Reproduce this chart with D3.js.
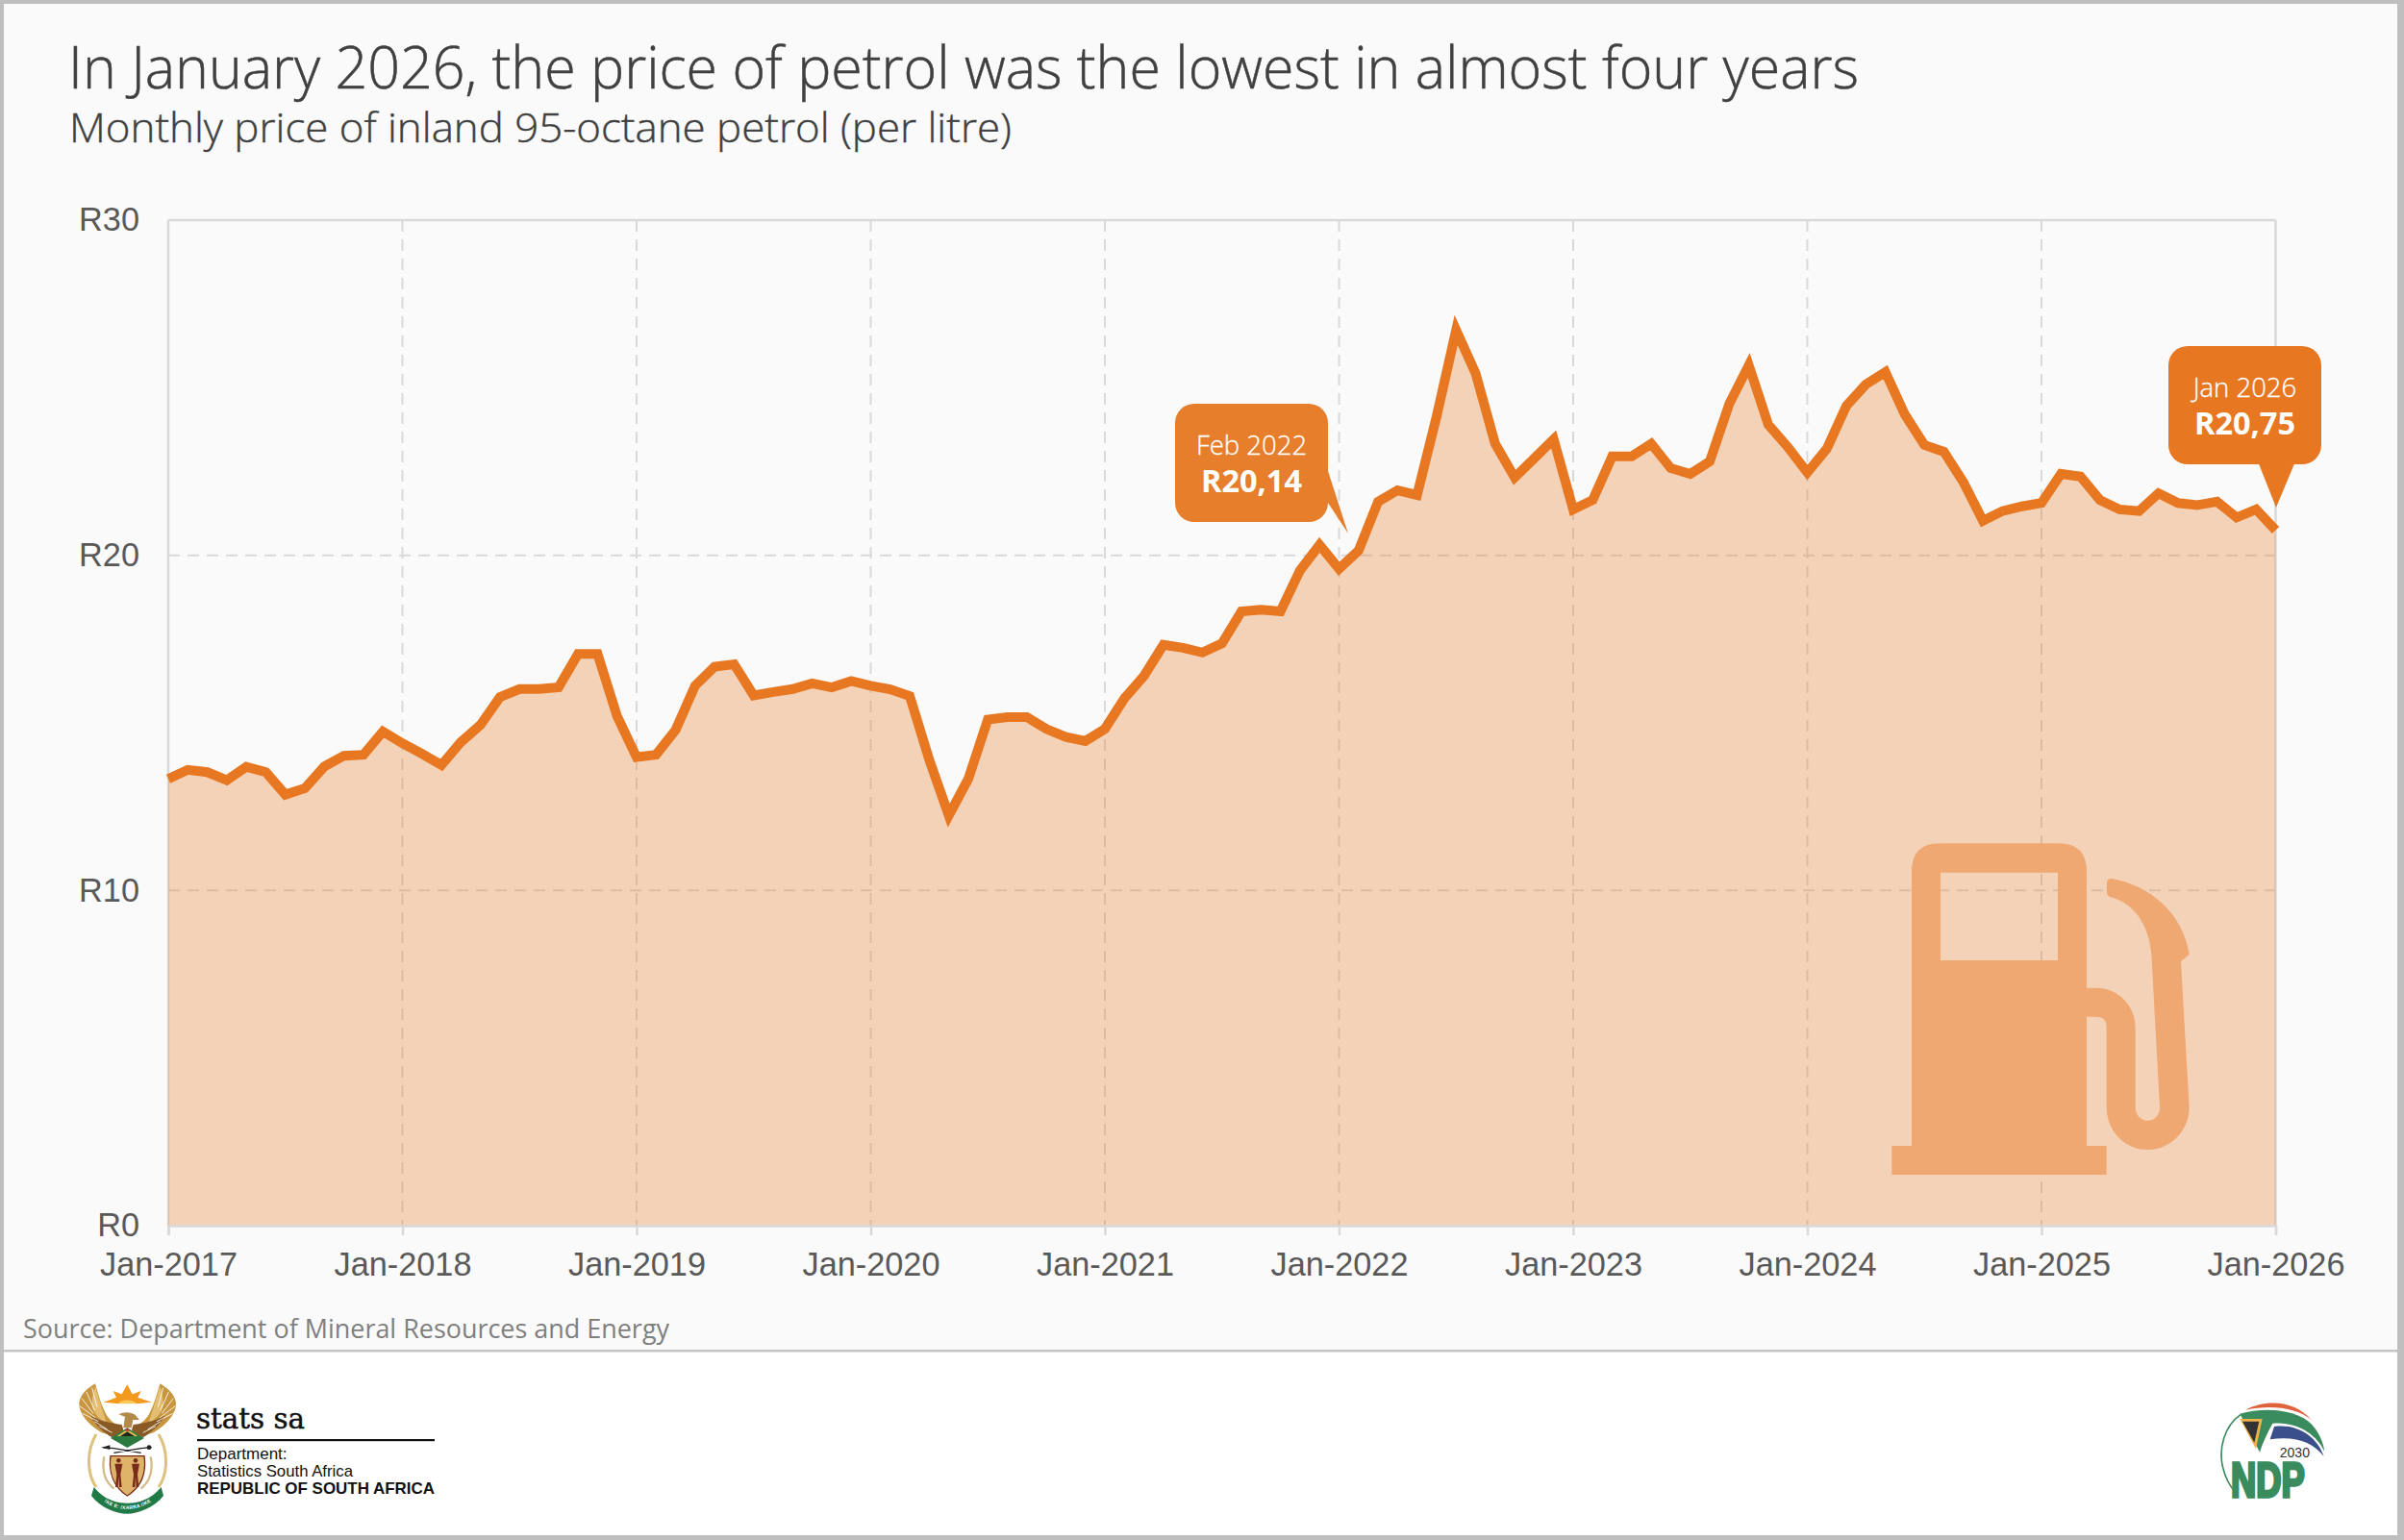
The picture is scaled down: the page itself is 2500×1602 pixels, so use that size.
<!DOCTYPE html>
<html><head><meta charset="utf-8">
<script src="https://cdn.jsdelivr.net/npm/d3@7"></script>
<style>
html,body{margin:0;padding:0;background:#fff}
svg{display:block}
text{font-family:"Open Sans",sans-serif}
.axis text{font-family:"Liberation Sans",Arial,sans-serif;fill:#595959;font-size:34.3px}
</style></head><body>
<div id="chart"></div>
<script>
const years = [2017,2018,2019,2020,2021,2022,2023,2024,2025];
const monthNames = ["Jan","Feb","Mar","Apr","May","Jun","Jul","Aug","Sep","Oct","Nov","Dec"];
const categories = years.flatMap(y => monthNames.map(m => m + "-" + y)).concat(["Jan-2026"]);
const tickLabels = ["Jan-2017","Jan-2018","Jan-2019","Jan-2020","Jan-2021","Jan-2022","Jan-2023","Jan-2024","Jan-2025","Jan-2026"];
const yTicks = [0,10,20,30];
const prices = [
 13.33,13.60,13.53,13.29,13.69,13.53,12.86,13.05,13.70,14.02,14.05,14.74,
 14.39,14.08,13.74,14.43,14.94,15.77,16.01,16.01,16.06,17.06,17.06,15.20,
 13.98,14.05,14.79,16.11,16.68,16.75,15.82,15.92,16.01,16.18,16.06,16.25,
 16.11,16.00,15.80,13.90,12.24,13.33,15.10,15.17,15.17,14.82,14.58,14.46,
 14.82,15.73,16.40,17.33,17.24,17.10,17.37,18.33,18.38,18.33,19.55,20.31,
 19.60,20.14,21.60,21.94,21.80,24.14,26.72,25.43,23.33,22.32,22.89,23.46,
 21.37,21.65,22.95,22.95,23.33,22.60,22.43,22.80,24.52,25.67,23.90,23.23,
 22.47,23.18,24.46,25.10,25.47,24.20,23.29,23.09,22.18,21.03,21.32,21.46,
 21.56,22.43,22.35,21.65,21.37,21.32,21.85,21.56,21.50,21.60,21.13,21.37,
 20.75];
const titleText = "In January 2026, the price of petrol was the lowest in almost four years";
const subtitleText = "Monthly price of inland 95-octane petrol (per litre)";
const sourceText = "Source: Department of Mineral Resources and Energy";

const W = 2500, H = 1602;
const orange = "#E87722";
const svg = d3.select("#chart").append("svg").attr("width",W).attr("height",H).attr("viewBox",`0 0 ${W} ${H}`);

// panels
svg.append("rect").attr("width",W).attr("height",H).attr("fill","#BFBFBF");
svg.append("rect").attr("x",4).attr("y",4).attr("width",W-11).attr("height",H-9).attr("fill","#fff");
svg.append("rect").attr("x",4).attr("y",4).attr("width",W-11).attr("height",1400).attr("fill","#FAFAFA");
svg.append("rect").attr("x",4).attr("y",1404).attr("width",W-11).attr("height",2.5).attr("fill","#C4C4C4");

// titles
svg.append("text").attr("x",71).attr("y",92).attr("font-size",60).attr("font-weight",300).attr("fill","#404040")
  .attr("stroke","#404040").attr("stroke-width",0.5)
  .attr("textLength",1862).attr("lengthAdjust","spacingAndGlyphs").text(titleText);
svg.append("text").attr("x",72).attr("y",148).attr("font-size",42).attr("font-weight",300).attr("fill","#404040")
  .attr("stroke","#404040").attr("stroke-width",0.4)
  .attr("textLength",980).attr("lengthAdjust","spacingAndGlyphs").text(subtitleText);
svg.append("text").attr("x",24).attr("y",1392).attr("font-size",28).attr("font-weight",400).attr("fill","#7F7F7F")
  .attr("textLength",672).attr("lengthAdjust","spacingAndGlyphs").text(sourceText);

// scales
const x = d3.scalePoint().domain(categories).range([175,2366.5]);
const y = d3.scaleLinear().domain([0,30]).range([1275,229]);

// grid
const grid = svg.append("g").attr("stroke","#D9D9D9").attr("stroke-width",2).attr("stroke-dasharray","12 8");
grid.selectAll("line.v").data(tickLabels.slice(1,-1)).join("line").attr("class","v")
  .attr("x1",d=>x(d)).attr("x2",d=>x(d)).attr("y1",y(30)).attr("y2",y(0));
grid.selectAll("line.h").data(yTicks.slice(1,-1)).join("line").attr("class","h")
  .attr("x1",x.range()[0]).attr("x2",x.range()[1]).attr("y1",d=>y(d)).attr("y2",d=>y(d));

// frame
const frame = svg.append("g").attr("stroke","#D9D9D9").attr("stroke-width",2.5);
frame.append("line").attr("x1",175).attr("x2",2366.5).attr("y1",y(30)).attr("y2",y(30));
frame.append("line").attr("x1",175).attr("x2",175).attr("y1",y(30)).attr("y2",y(0));
frame.append("line").attr("x1",2366.5).attr("x2",2366.5).attr("y1",y(30)).attr("y2",y(0));

// area + line
const points = categories.map((c,i)=>({c,v:prices[i]}));
svg.append("path").datum(points).attr("fill",orange).attr("fill-opacity",0.3)
  .attr("d",d3.area().x(d=>x(d.c)).y0(y(0)).y1(d=>y(d.v)));

// pump icon (over area)
const pump = svg.append("g").attr("transform","translate(1900,840) scale(0.33333)").attr("fill","#F0A873");
pump.append("rect").attr("x",202).attr("y",1056).attr("width",670).attr("height",90);
pump.append("path").attr("fill-rule","evenodd")
  .attr("d","M264,1056V200Q264,112 352,112H722Q810,112 810,200V1056ZM354,203V477H720V203Z");
pump.append("path").attr("d","M810,563H840C910,563 962,620 962,685V935C962,960 980,977 1000,977C1022,977 1038,960 1038,935L1012,460C1005,360 950,295 885,280Q873,277 873,265V235Q873,220 890,222C1010,245 1110,330 1130,458L1104,480L1130,935C1130,1010 1070,1068 1000,1068C930,1068 872,1010 872,935V685Q872,653 840,653H810Z");

svg.append("path").datum(points).attr("fill","none").attr("stroke",orange).attr("stroke-width",10)
  .attr("stroke-linejoin","miter").attr("stroke-miterlimit",4)
  .attr("d",d3.line().x(d=>x(d.c)).y(d=>y(d.v)));

// axes
const xAxis = svg.append("g").attr("class","axis").attr("transform",`translate(0,${y(0)})`)
  .call(d3.axisBottom(x).tickValues(tickLabels).tickSize(10).tickPadding(17.5));
xAxis.select(".domain").attr("stroke","#D9D9D9").attr("stroke-width",2.5);
xAxis.selectAll(".tick line").attr("stroke","#D9D9D9").attr("stroke-width",2.5);
const yAxis = svg.append("g").attr("class","axis").attr("transform","translate(175,0)")
  .call(d3.axisLeft(y).tickValues(yTicks).tickSize(0).tickPadding(30).tickFormat(d=>"R"+d));
yAxis.select(".domain").remove();

// callouts
function callout(box,tail,tip,c,l1,l2,yl1,yl2){
  const g = svg.append("g");
  g.append("rect").attr("x",box[0]).attr("y",box[1]).attr("width",box[2]).attr("height",box[3]).attr("rx",20).attr("fill",c);
  g.append("path").attr("fill",c).attr("d",`M${tail[0]},${tail[1]}L${tip[0]},${tip[1]}L${tail[2]},${tail[3]}Z`);
  const cx = box[0]+box[2]/2;
  g.append("text").attr("x",cx).attr("y",yl1).attr("text-anchor","middle").attr("font-size",27.5).attr("font-weight",300).attr("fill","#fff").attr("stroke","#fff").attr("stroke-width",0.3).text(l1);
  g.append("text").attr("x",cx).attr("y",yl2).attr("text-anchor","middle").attr("font-size",32.5).attr("font-weight",700).attr("fill","#fff").text(l2);
}
callout([1222,420,159,123],[1381,490,1381,523],[1402,555],"#E67E2B","Feb 2022","R20,14",473,512);
callout([2255,360,159,123],[2348,480,2387,480],[2367,528],orange,"Jan 2026","R20,75",413,452);

// stats sa emblem
const em = svg.append("g").attr("transform","translate(75,1432) scale(0.33333)");
function wing(g){
  g.append("path").attr("fill","#C8963E").attr("d","M72,22C50,35 25,55 22,82C20,115 50,150 92,175L145,190L160,160C130,150 110,130 100,105C88,80 80,50 72,22Z");
  g.append("path").attr("fill","#E3BE72").attr("d","M72,30C62,60 58,90 70,112C80,128 95,140 110,150C100,125 85,70 72,30Z");
  g.append("path").attr("fill","#8A5A26").attr("d","M58,122C90,140 125,145 155,150L160,168L125,190C100,175 70,150 58,122Z");
  g.append("path").attr("fill","none").attr("stroke","#fff").attr("stroke-width",2.5)
    .attr("d","M62,35L78,95M45,48L70,105M30,68L66,115M24,92L72,128M32,115L82,140M70,140L110,165M85,155L125,175");
}
wing(em.append("g"));
wing(em.append("g").attr("transform","translate(346,0) scale(-1,1)"));
em.append("path").attr("fill","#F39A1E").attr("d","M98,80L138,65L128,45L155,55L172,25L188,55L215,45L205,65L248,80L200,85C190,72 155,72 145,85Z");
em.append("path").attr("fill","#F7C95A").attr("d","M145,85C155,70 190,70 200,85Z");
em.append("path").attr("fill","#B38A4A").attr("d","M145,118Q170,105 195,118L210,135L190,135L185,160L160,160L165,125Z");
em.append("path").attr("fill","#2C7A3F").attr("d","M172,160L225,192L172,222L120,192Z");
em.append("path").attr("fill","#E6C14F").attr("d","M172,165L205,186H140Z");
em.append("path").attr("fill","#222").attr("d","M150,186L172,172L195,186Z");
em.append("path").attr("fill","#C9302C").attr("d","M165,170L172,160L180,170Z");
em.append("path").attr("fill","none").attr("stroke","#DCC27A").attr("stroke-width",9).attr("d","M75,180C40,240 50,310 75,345M270,180C305,240 295,310 270,345");
em.append("path").attr("stroke","#222").attr("stroke-width",4).attr("fill","none").attr("d","M95,221L130,224L215,238M248,221L215,224L130,238");
em.append("circle").attr("cx",240).attr("cy",221).attr("r",7).attr("fill","#222");
em.append("path").attr("fill","#222").attr("d","M92,221L118,214L118,228Z");
em.append("path").attr("fill","none").attr("stroke","#D4BC8A").attr("stroke-width",7).attr("d","M100,250C92,290 100,325 130,350M245,250C253,290 245,325 215,350");
em.append("path").attr("fill","#DDB46A").attr("stroke","#7A2A1A").attr("stroke-width",4).attr("d","M120,248H225C232,300 215,345 172,372C130,345 113,300 120,248Z");
[145,198].forEach(cx=>{
  em.append("circle").attr("cx",cx).attr("cy",262).attr("r",7).attr("fill","#7A2A1A");
  em.append("path").attr("fill","#7A2A1A").attr("d",`M${cx-12},272H${cx+12}L${cx+6},305L${cx+10},345H${cx+2}L${cx},312L${cx-2},345H${cx-10}L${cx-6},305Z`);
});
em.append("path").attr("fill","#1F7A45").attr("d","M68,345C100,385 140,395 172,395C205,395 245,385 278,345L285,372C255,410 205,428 172,428C135,428 90,410 60,372Z");
em.append("path").attr("id","motto").attr("fill","none").attr("d","M85,378C115,405 145,414 172,414C200,414 232,405 262,378");
em.append("text").attr("font-size",15).attr("font-weight",700).attr("fill","#fff").style("font-family","Liberation Sans")
  .attr("letter-spacing",1).append("textPath").attr("href","#motto").attr("startOffset","50%").attr("text-anchor","middle").text("!KE E: /XARRA //KE");

// stats sa text
svg.append("text").attr("x",204).attr("y",1486).style("font-family","DejaVu Serif").attr("font-size",30)
  .attr("fill","#111").attr("stroke","#111").attr("stroke-width",0.5).attr("textLength",113).attr("lengthAdjust","spacingAndGlyphs").text("stats sa");
svg.append("rect").attr("x",205).attr("y",1497).attr("width",247).attr("height",2.2).attr("fill","#111");
const small = [["Department:",1518,400,null],["Statistics South Africa",1536,400,162],["REPUBLIC OF SOUTH AFRICA",1554,700,247]];
small.forEach(s=>{
  const t = svg.append("text").attr("x",205).attr("y",s[1]).style("font-family","Liberation Sans").attr("font-size",17).attr("font-weight",s[2]).attr("fill","#111").text(s[0]);
  if(s[3]) t.attr("textLength",s[3]).attr("lengthAdjust","spacingAndGlyphs");
});

// NDP logo
const nd = svg.append("g").attr("transform","translate(2300,1450) scale(0.33333)");
nd.append("path").attr("fill","#E0623A").attr("d","M105,50C170,15 260,20 312,82C270,45 190,32 105,50Z");
nd.append("path").attr("fill","#3A8B5E").attr("d","M88,62C170,38 270,50 312,95C335,120 348,150 352,180C330,130 270,85 190,92C175,120 160,150 150,182L88,62Z");
nd.append("path").attr("fill","none").attr("stroke","#3A8B5E").attr("stroke-width",5).attr("d","M90,65C40,100 20,170 35,230C42,260 55,285 72,305");
nd.append("path").attr("fill","#3B4F8C").attr("d","M195,102C270,92 330,135 350,195C315,150 260,130 182,142Z");
nd.append("path").attr("fill","#F2B24A").attr("d","M88,78H158L138,172Z");
nd.append("path").attr("fill","#333").attr("d","M96,86H148L133,152Z");
nd.append("text").attr("x",212).attr("y",198).style("font-family","Liberation Sans").attr("font-size",44).attr("fill","#333")
  .attr("textLength",94).attr("lengthAdjust","spacingAndGlyphs").text("2030");
nd.append("text").attr("x",60).attr("y",320).style("font-family","Liberation Sans").attr("font-size",150).attr("font-weight",700).attr("fill","#3A8B5E").attr("stroke","#3A8B5E").attr("stroke-width",10)
  .attr("textLength",230).attr("lengthAdjust","spacingAndGlyphs").text("NDP");
</script>
</body></html>
